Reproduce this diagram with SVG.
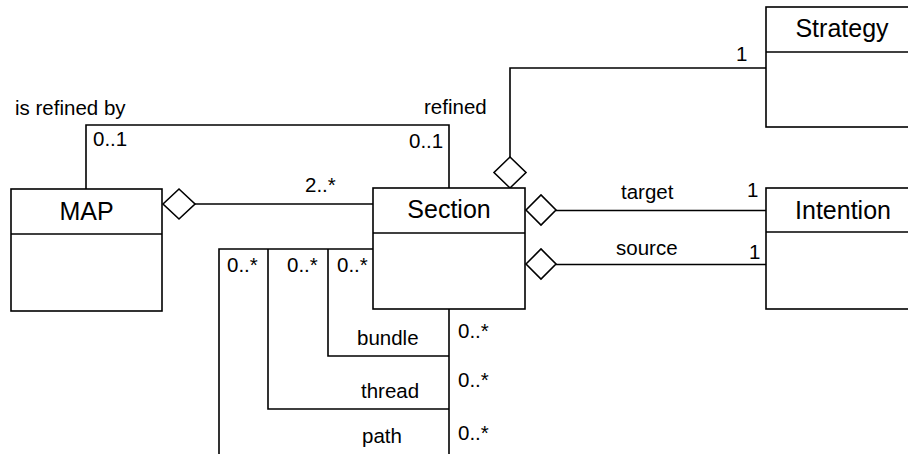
<svg xmlns="http://www.w3.org/2000/svg" width="908" height="454" viewBox="0 0 908 454">
<style>
.box{fill:#fff;stroke:#000;stroke-width:1.6}
.ln{fill:none;stroke:#000;stroke-width:1.6}
.dia{fill:#fff;stroke:#000;stroke-width:1.6}
.big{font-family:"Liberation Sans",Arial,sans-serif;font-size:25px;fill:#000;text-anchor:middle}
.lbl{font-family:"Liberation Sans",Arial,sans-serif;font-size:20.5px;fill:#000}
</style>
<rect width="908" height="454" fill="#fff"/>
<g id="connectors">
<polyline class="ln" points="86,189 86,125 449,125 449,188"/>
<line class="ln" x1="195" y1="204" x2="373" y2="204"/>
<polyline class="ln" points="510,157 510,68 766,68"/>
<line class="ln" x1="556" y1="210.5" x2="766" y2="210.5"/>
<line class="ln" x1="556" y1="264.5" x2="766" y2="264.5"/>
<polyline class="ln" points="219,454 219,249 373,249"/>
<polyline class="ln" points="268,249 268,409 449,409"/>
<polyline class="ln" points="328,249 328,356 449,356"/>
<line class="ln" x1="449" y1="309" x2="449" y2="454"/>
<polygon class="dia" points="163,204 179,189 195,204 179,219"/>
<polygon class="dia" points="510,157 526,172.5 510,188 494,172.5"/>
<polygon class="dia" points="526,210 541,195 556,210 541,225"/>
<polygon class="dia" points="526,264 541,249 556,264 541,279"/>
<text class="lbl" x="15" y="115">is refined by</text>
<text class="lbl" x="93" y="146">0..1</text>
<text class="lbl" x="424" y="114">refined</text>
<text class="lbl" x="409" y="148">0..1</text>
<text class="lbl" x="305" y="192">2..*</text>
<text class="lbl" x="736" y="61">1</text>
<text class="lbl" x="621" y="199">target</text>
<text class="lbl" x="747" y="197">1</text>
<text class="lbl" x="616" y="255">source</text>
<text class="lbl" x="749" y="259">1</text>
<text class="lbl" x="227" y="272">0..*</text>
<text class="lbl" x="287" y="272">0..*</text>
<text class="lbl" x="337" y="272">0..*</text>
<text class="lbl" x="357" y="345">bundle</text>
<text class="lbl" x="361" y="398">thread</text>
<text class="lbl" x="362" y="443">path</text>
<text class="lbl" x="458" y="338">0..*</text>
<text class="lbl" x="458" y="387">0..*</text>
<text class="lbl" x="458" y="440">0..*</text>
</g>
<g id="MAP">
<rect class="box" x="11" y="189" width="151" height="122"/>
<line class="ln" x1="11" y1="234" x2="162" y2="234"/>
<text class="big" x="86.5" y="220">MAP</text>
</g>
<g id="Section">
<rect class="box" x="373" y="188" width="152" height="121"/>
<line class="ln" x1="373" y1="233" x2="525" y2="233"/>
<text class="big" x="449" y="218">Section</text>
</g>
<g id="Strategy">
<rect class="box" x="766" y="7" width="152" height="120"/>
<line class="ln" x1="766" y1="52" x2="918" y2="52"/>
<text class="big" x="842" y="37">Strategy</text>
</g>
<g id="Intention">
<rect class="box" x="766" y="188" width="152" height="121"/>
<line class="ln" x1="766" y1="232" x2="918" y2="232"/>
<text class="big" x="843" y="219">Intention</text>
</g>
</svg>
